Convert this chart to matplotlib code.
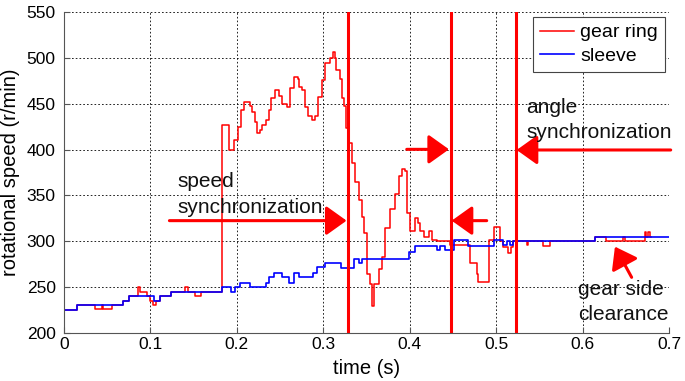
#!/usr/bin/python3
# -*- coding: utf-8 -*-

'''
Gear ring and sleeve rotational speed during shifting
'''

import matplotlib
matplotlib.use('Agg')
import matplotlib.pyplot as plt

# gear ring speed (step values, r/min)
gear_t = [0.000, 0.0155, 0.036, 0.0436, 0.0456, 0.055, 0.0687, 0.0753, 0.086, 0.088,
          0.0958, 0.0996, 0.1035, 0.107, 0.111, 0.124, 0.140, 0.144, 0.152, 0.159,
          0.1834, 0.191, 0.197, 0.2008, 0.2046, 0.2084, 0.215, 0.218, 0.2206, 0.2237,
          0.2267, 0.2294, 0.2332, 0.237, 0.2397, 0.2447, 0.2485, 0.2523, 0.258, 0.261,
          0.2656, 0.2702, 0.2725, 0.2752, 0.279, 0.2828, 0.2866, 0.2904, 0.2943, 0.298,
          0.302, 0.3076, 0.3107, 0.3134, 0.3153, 0.319, 0.3221, 0.3237, 0.326, 0.3296,
          0.3335, 0.3373, 0.3412, 0.345, 0.3469, 0.3508, 0.3546, 0.3565, 0.3585, 0.3642,
          0.3681, 0.372, 0.3777, 0.3835, 0.3873, 0.3912, 0.395, 0.397, 0.4008, 0.4065,
          0.4092, 0.4123, 0.4162, 0.422, 0.4258, 0.4315, 0.447, 0.47, 0.4777, 0.4796,
          0.4912, 0.497, 0.5046, 0.5085, 0.514, 0.517, 0.52, 0.5354, 0.537, 0.5546,
          0.5623, 0.6142, 0.6277, 0.647, 0.6488, 0.672, 0.6738, 0.6758, 0.6777, 0.679]
gear_v = [225, 231, 226, 231, 226, 231, 235, 241, 250, 245,
          241, 235, 231, 235, 241, 245, 250, 245, 241, 245,
          427, 400, 410, 425, 443, 452, 447, 441, 430, 418,
          421, 427, 432, 443, 456, 465, 458, 450, 446, 467,
          479, 477, 468, 465, 446, 436, 432, 437, 457, 476,
          494, 500, 506, 500, 487, 477, 456, 447, 423, 407,
          385, 365, 345, 327, 309, 265, 254, 230, 254, 270,
          283, 315, 335, 352, 371, 379, 377, 331, 311, 326,
          320, 311, 305, 311, 301, 300, 296, 276, 265, 256,
          301, 316, 300, 294, 287, 294, 300, 296, 300, 295,
          300, 305, 300, 305, 300, 310, 305, 310, 305, 305]

# sleeve speed (step values, r/min)
sleeve_t = [0.000, 0.0155, 0.0687, 0.0753, 0.1046, 0.111, 0.124, 0.1834, 0.1934, 0.1973,
            0.2039, 0.2147, 0.2332, 0.237, 0.2427, 0.2523, 0.2599, 0.2656, 0.2714, 0.2885,
            0.2924, 0.302, 0.321, 0.3354, 0.341, 0.345, 0.399, 0.4065, 0.4315, 0.435,
            0.441, 0.451, 0.468, 0.497, 0.5085, 0.5123, 0.516, 0.52, 0.6142, 0.700]
sleeve_v = [225, 231, 235, 241, 235, 241, 245, 250, 245, 250,
            255, 250, 255, 261, 266, 261, 255, 266, 261, 266,
            272, 276, 271, 281, 276, 281, 289, 295, 291, 295,
            291, 301, 295, 301, 296, 300, 296, 300, 305, 305]

# phase boundaries (s)
marks = [0.329, 0.4475, 0.5235]

xticks = [0, 0.1, 0.2, 0.3, 0.4, 0.5, 0.6, 0.7]
xtick_labels = ['0', '0.1', '0.2', '0.3', '0.4', '0.5', '0.6', '0.7']
yticks = [200, 250, 300, 350, 400, 450, 500, 550]

RED = '#ff0000'
BLUE = '#0000ff'


def main():
    '''
    Main function
    '''
    plt.rcParams['font.family'] = ['Liberation Sans', 'DejaVu Sans']
    fig = plt.figure(figsize=(6.85, 3.81), dpi=100)
    ax = fig.add_axes([0.0934, 0.1252, 0.8832, 0.8441])

    ax.step(gear_t, gear_v, where='post', color=RED, lw=1.1, label='gear ring')
    ax.step(sleeve_t, sleeve_v, where='post', color=BLUE, lw=1.2, label='sleeve')

    for m in marks:
        ax.axvline(m, color=RED, lw=2.2)

    ax.set_xlim(0, 0.7)
    ax.set_ylim(200, 550)
    ax.set_xticks(xticks)
    ax.set_xticklabels(xtick_labels)
    ax.set_yticks(yticks)
    ax.grid(True, linestyle=(0, (2, 2.5)), color='black', lw=0.6)
    ax.set_axisbelow(True)
    for side in ['top', 'right']:
        ax.spines[side].set_visible(False)
    for side in ['left', 'bottom']:
        ax.spines[side].set_color('#555555')
        ax.spines[side].set_linewidth(0.8)
    ax.tick_params(direction='in', length=4, color='#555555', labelsize=12.5)
    ax.tick_params(axis='y', pad=6)
    ax.tick_params(axis='x', pad=3)

    ax.set_xlabel('time (s)', fontsize=14.5, labelpad=5)
    ax.set_ylabel('rotational speed (r/min)', fontsize=14.5, labelpad=5)

    # annotations
    arrow = dict(arrowstyle='-|>,head_length=0.42,head_width=0.3', color=RED,
                 lw=2.2, mutation_scale=30, shrinkA=0, shrinkB=0)
    ax.annotate('', xy=(0.327, 322.6), xytext=(0.122, 322.6), arrowprops=arrow)
    ax.annotate('', xy=(0.4455, 400.2), xytext=(0.3966, 400.2), arrowprops=arrow)
    ax.annotate('', xy=(0.4486, 322.6), xytext=(0.4891, 322.6), arrowprops=arrow)
    ax.annotate('', xy=(0.5238, 399.5), xytext=(0.702, 399.5), arrowprops=arrow,
                annotation_clip=False)
    ax.annotate('', xy=(0.6375, 294.3), xytext=(0.6568, 260.9), arrowprops=arrow)

    txt = dict(fontsize=15, color='#111111', va='baseline', ha='left')
    ax.text(0.1313, 359.5, 'speed', **txt)
    ax.text(0.1313, 330.9, 'synchronization', **txt)
    ax.text(0.5346, 439.4, 'angle', **txt)
    ax.text(0.5346, 412.2, 'synchronization', **txt)
    ax.text(0.595, 241.7, 'gear side', **txt)
    ax.text(0.595, 214.5, 'clearance', **txt)

    leg = ax.legend(loc='upper right', bbox_to_anchor=(0.9934, 0.9835),
                    borderaxespad=0, fontsize=14, fancybox=False, framealpha=1,
                    handlelength=1.75, handletextpad=0.35, borderpad=0.35,
                    labelspacing=0.3)
    leg.get_frame().set_edgecolor('#444444')
    leg.get_frame().set_linewidth(0.8)

    fig.savefig('out.png', dpi=100)


if __name__ == '__main__':
    main()
